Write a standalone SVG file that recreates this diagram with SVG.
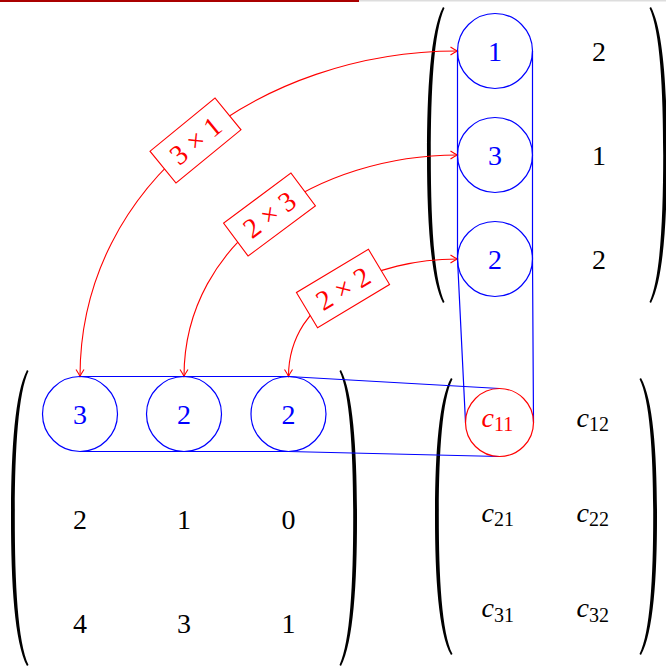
<svg xmlns="http://www.w3.org/2000/svg" xmlns:xlink="http://www.w3.org/1999/xlink" width="666" height="666" viewBox="0 0 666 666">
<style>
  .num { font-family: 'Liberation Serif', 'Times New Roman', serif; font-size: 28px; text-anchor: middle; fill: #000; }
  .blue { fill: #0000ff; }
  .red { fill: #ff0000; }
  .cell { fill: none; stroke: #0000ff; stroke-width: 1.2; }
  .cellred { fill: none; stroke: #ff0000; stroke-width: 1.2; }
  .fit { fill: none; stroke: #0000ff; stroke-width: 1.2; }
  .arc { fill: none; stroke: #ff0000; stroke-width: 1.1; marker-start: url(#tip); marker-end: url(#tip); }
  .lbl { fill: #ffffff; stroke: #ff0000; stroke-width: 1.1; }
  .paren { fill: #000; stroke: none; }
  .ci { font-family: 'Liberation Serif', 'Times New Roman', serif; font-style: italic; font-size: 28px; }
  .sub { font-family: 'Liberation Serif', 'Times New Roman', serif; font-size: 20px; }
</style>
<defs>
  <marker id="tip" viewBox="-8 -5 9 10" refX="0" refY="0" markerWidth="9" markerHeight="10" markerUnits="userSpaceOnUse" orient="auto-start-reverse">
    <path d="M-7,-4 Q-2.5,-1 0,0 Q-2.5,1 -7,4" fill="none" stroke="#ff0000" stroke-width="1.1"/>
  </marker>
  <path id="lp296" d="M0,0 C-12.5,23.7 -16,82.9 -16,148 C-16,213.1 -12.5,272.3 0,296 L1.5,295 C-9.1,272.3 -12.2,213.1 -12.2,148 C-12.2,82.9 -9.1,23.7 1.5,1 Z"/>
  <path id="lp277" d="M0,0 C-12.5,22.2 -16,77.6 -16,138.5 C-16,199.4 -12.5,254.8 0,277 L1.5,276 C-9.1,254.8 -12.2,199.4 -12.2,138.5 C-12.2,77.6 -9.1,22.2 1.5,1 Z"/>
</defs>
<rect x="0" y="0" width="666" height="666" fill="#ffffff"/>
<rect x="0" y="0" width="359" height="2" fill="#aa0000"/>
<rect x="359" y="0" width="307" height="1.5" fill="#dddddd"/>

<g id="parens">
  <use xlink:href="#lp296" class="paren" transform="translate(443,7)"/>
  <use xlink:href="#lp296" class="paren" transform="translate(651,7) scale(-1,1)"/>
  <use xlink:href="#lp296" class="paren" transform="translate(27,370)"/>
  <use xlink:href="#lp296" class="paren" transform="translate(341,370) scale(-1,1)"/>
  <use xlink:href="#lp277" class="paren" transform="translate(451,378)"/>
  <use xlink:href="#lp277" class="paren" transform="translate(641,378) scale(-1,1)"/>
</g>

<g id="connectors">
  <polyline class="fit" points="80,376.5 288.5,376.5 499.5,388.5"/>
  <polyline class="fit" points="80,451.5 288.5,451.5 499.5,456.5"/>
  <polyline class="fit" points="457.5,51 457.5,259 465.5,422.5"/>
  <polyline class="fit" points="532.5,51 532.5,259 533.5,422.5"/>
  <path class="arc" d="M80,376.5 C80,181 262,51 457.5,51"/>
  <path class="arc" d="M184,376.5 C184,239 320,155 457.5,155"/>
  <path class="arc" d="M288.5,376.5 C288.5,296.5 377,259 457.5,259"/>
</g>

<g id="labels">
  <g id="lbl-3x1" transform="translate(195.5,140.5) rotate(-39.3)">
    <rect class="lbl" x="-42" y="-20.5" width="84" height="41"/>
    <text class="num red" x="0" y="9.5">3 × 1</text>
  </g>
  <g id="lbl-2x3" transform="translate(269.5,214.5) rotate(-36.7)">
    <rect class="lbl" x="-42" y="-20.5" width="84" height="41"/>
    <text class="num red" x="0" y="9.5">2 × 3</text>
  </g>
  <g id="lbl-2x2" transform="translate(343,288.5) rotate(-31)">
    <rect class="lbl" x="-42" y="-20.5" width="84" height="41"/>
    <text class="num red" x="0" y="9.5">2 × 2</text>
  </g>
</g>

<g id="matrixB">
  <g id="B11"><circle class="cell" cx="495" cy="51" r="37.5"/><text class="num blue" x="495" y="60.5">1</text></g>
  <g id="B12"><text class="num" x="599" y="60.5">2</text></g>
  <g id="B21"><circle class="cell" cx="495" cy="155" r="37.5"/><text class="num blue" x="495" y="164.5">3</text></g>
  <g id="B22"><text class="num" x="599" y="164.5">1</text></g>
  <g id="B31"><circle class="cell" cx="495" cy="259" r="37.5"/><text class="num blue" x="495" y="268.5">2</text></g>
  <g id="B32"><text class="num" x="599" y="268.5">2</text></g>
</g>

<g id="matrixA">
  <g id="A11"><circle class="cell" cx="80" cy="414" r="37.5"/><text class="num blue" x="80" y="423.5">3</text></g>
  <g id="A12"><circle class="cell" cx="184" cy="414" r="37.5"/><text class="num blue" x="184" y="423.5">2</text></g>
  <g id="A13"><circle class="cell" cx="288.5" cy="414" r="37.5"/><text class="num blue" x="288.5" y="423.5">2</text></g>
  <g id="A21"><text class="num" x="80" y="528.5">2</text></g>
  <g id="A22"><text class="num" x="184" y="528.5">1</text></g>
  <g id="A23"><text class="num" x="288.5" y="528.5">0</text></g>
  <g id="A31"><text class="num" x="80" y="632.5">4</text></g>
  <g id="A32"><text class="num" x="184" y="632.5">3</text></g>
  <g id="A33"><text class="num" x="288.5" y="632.5">1</text></g>
</g>

<g id="matrixC">
  <g id="C11"><circle class="cellred" cx="499.5" cy="422.5" r="34"/><text x="481.5" y="426.5" class="red"><tspan class="ci">c</tspan><tspan class="sub" dy="4.5">11</tspan></text></g>
  <g id="C12"><text x="576.5" y="426.5"><tspan class="ci">c</tspan><tspan class="sub" dy="4.5">12</tspan></text></g>
  <g id="C21"><text x="481.5" y="521.5"><tspan class="ci">c</tspan><tspan class="sub" dy="4.5">21</tspan></text></g>
  <g id="C22"><text x="576.5" y="521.5"><tspan class="ci">c</tspan><tspan class="sub" dy="4.5">22</tspan></text></g>
  <g id="C31"><text x="481.5" y="617"><tspan class="ci">c</tspan><tspan class="sub" dy="4.5">31</tspan></text></g>
  <g id="C32"><text x="576.5" y="617"><tspan class="ci">c</tspan><tspan class="sub" dy="4.5">32</tspan></text></g>
</g>
</svg>
